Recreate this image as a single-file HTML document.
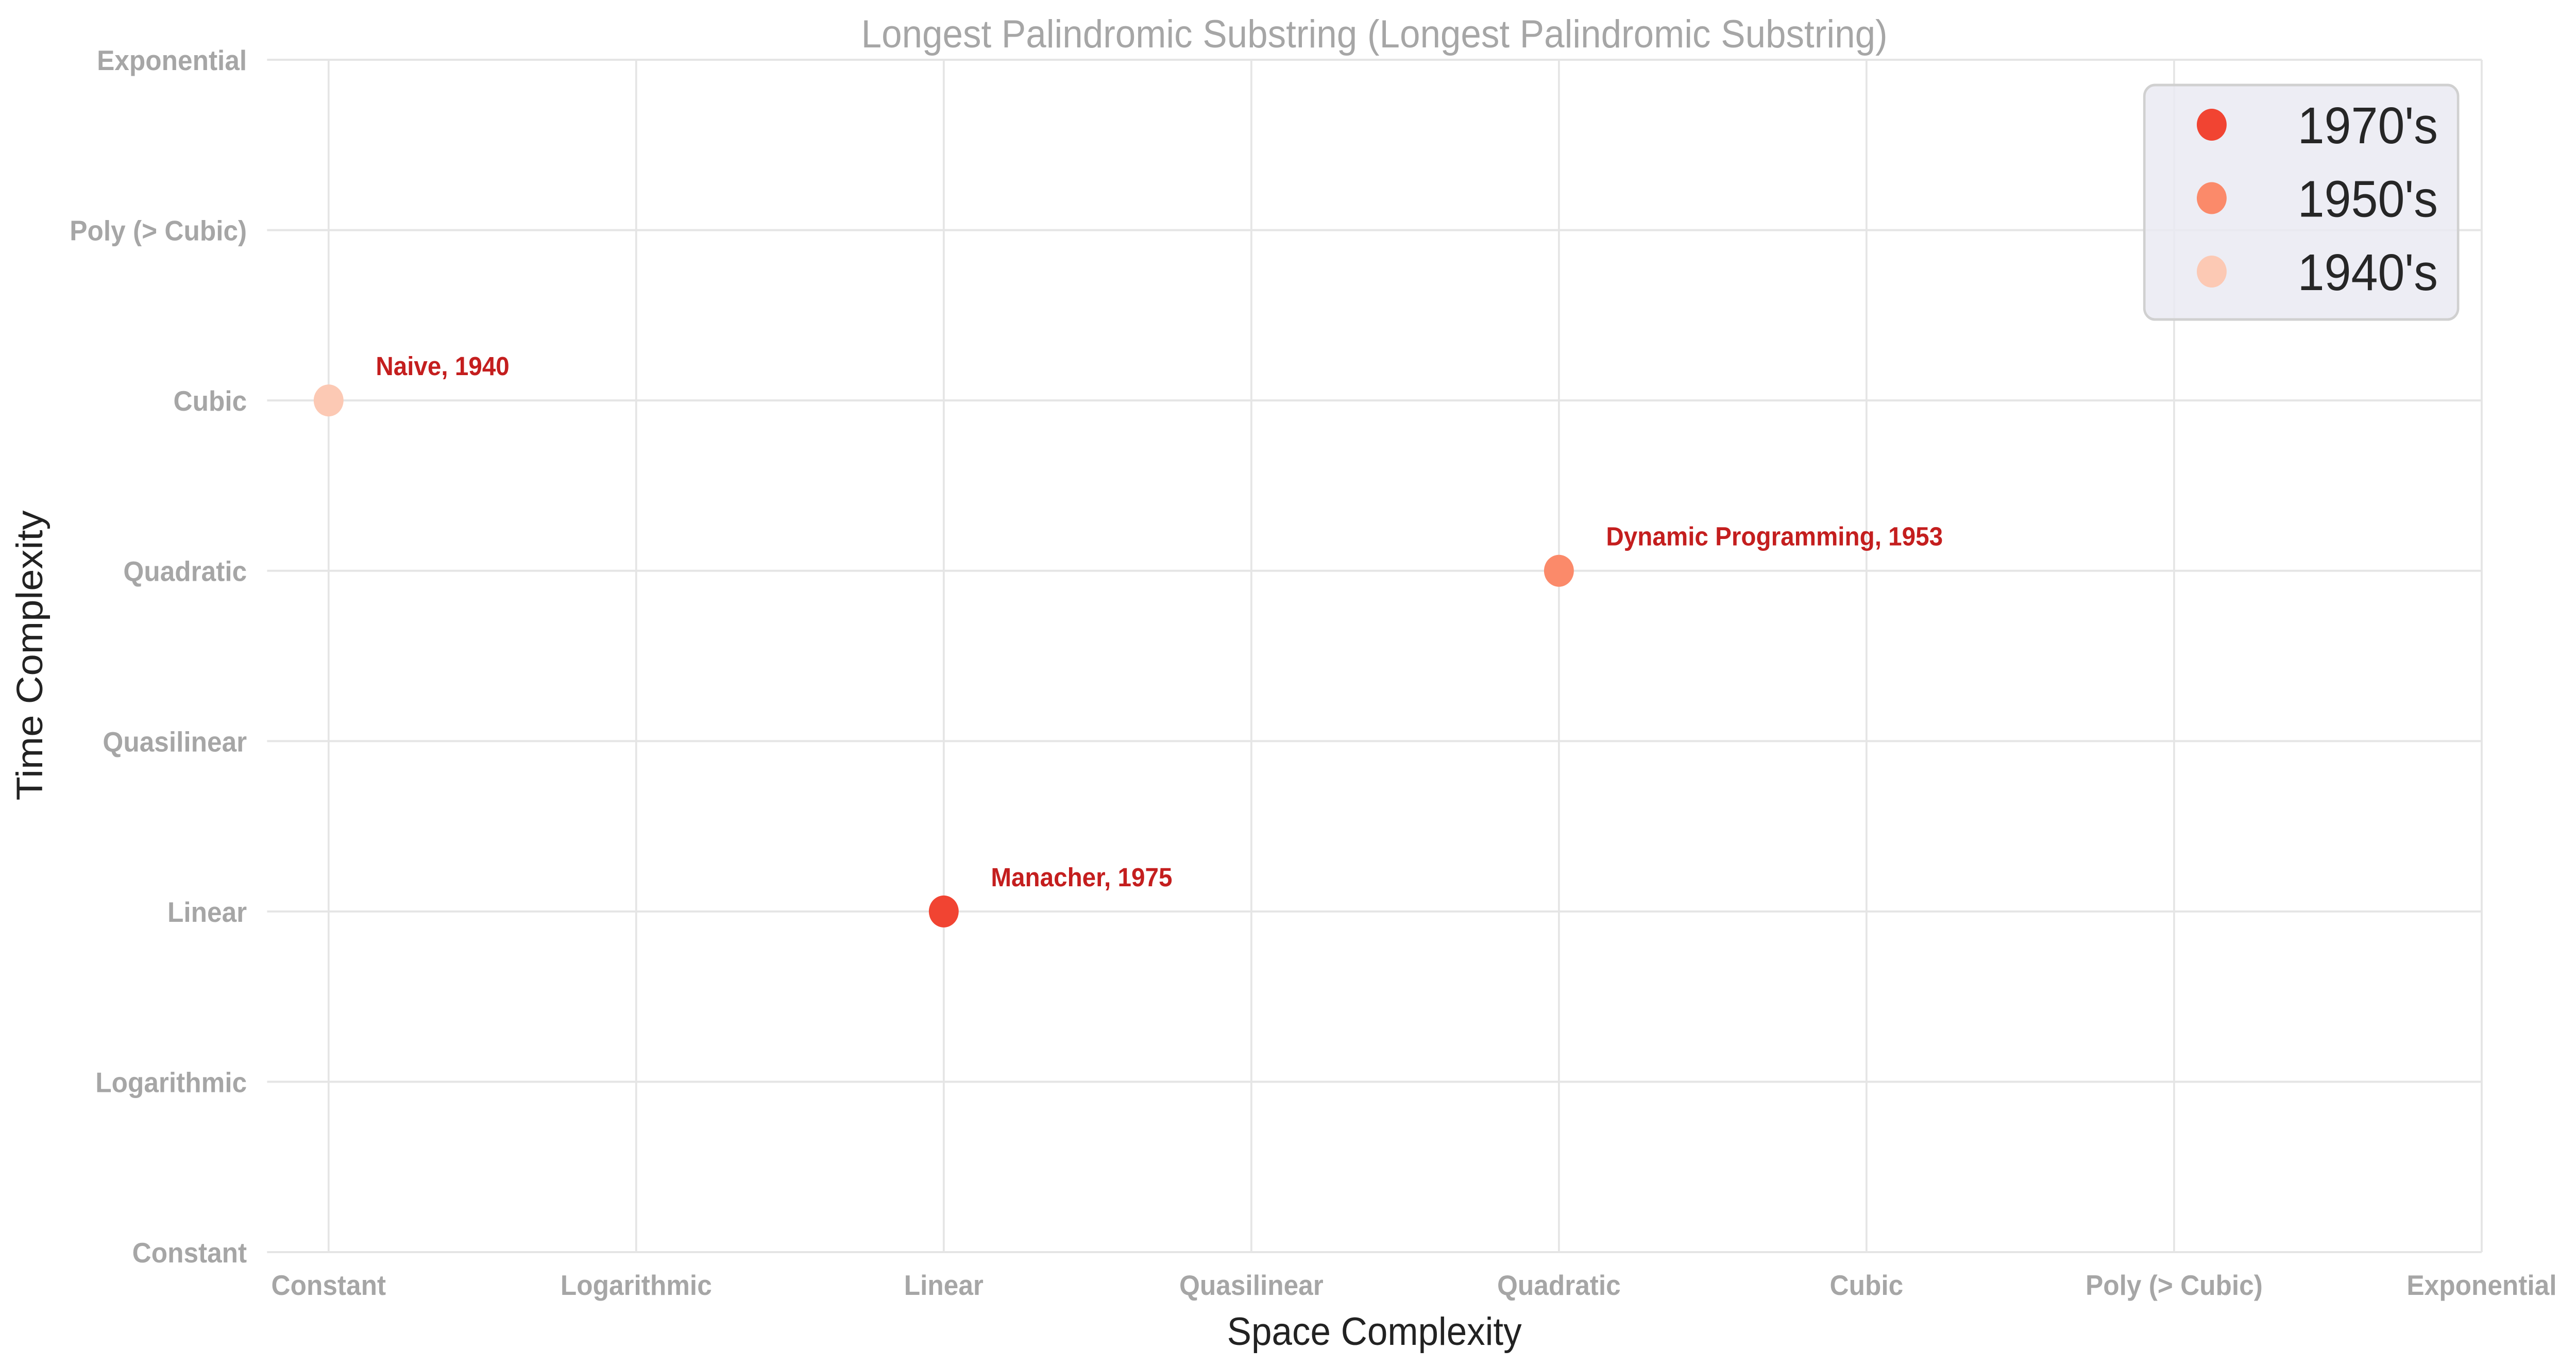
<!DOCTYPE html>
<html><head><meta charset="utf-8"><style>
html,body{margin:0;padding:0;background:#fff;width:100%;height:100%;overflow:hidden;}
svg{display:block;position:absolute;left:0;top:0;width:100vw;height:100vh;}
</style></head><body>
<svg id="chart" viewBox="0 0 5353 2651" preserveAspectRatio="none" xmlns="http://www.w3.org/2000/svg" font-family="Liberation Sans, Arial, sans-serif">
<rect width="5353" height="2651" fill="#fff"/>
<text x="2856" y="92" font-size="76" fill="#a6a6a6" text-anchor="middle">Longest Palindromic Substring (Longest Palindromic Substring)</text>
<g id="grid"></g>
<g id="xticks"></g>
<g id="yticks"></g>
<g id="points"></g>
<text x="2856" y="2610" font-size="76" fill="#222" text-anchor="middle">Space Complexity</text>
<text x="0" y="0" font-size="76" fill="#222" text-anchor="middle" transform="translate(88,1272) rotate(-90)">Time Complexity</text>
<g id="legend">
<rect x="4456" y="165" width="652" height="455" rx="22" fill="#eaeaf2" fill-opacity="0.85" stroke="#d0d0d0" stroke-width="5"/>
</g>
</svg>
<script>
const categories = ["Constant","Logarithmic","Linear","Quasilinear","Quadratic","Cubic","Poly (> Cubic)","Exponential"];
const pointNames = ["Naive, 1940","Dynamic Programming, 1953","Manacher, 1975"];
const spaceValues = [0, 4, 2];
const timeValues = [5, 4, 2];
const pointColors = ["#fcc9b4","#fb8a6a","#f14432"];
const legendLabels = ["1970's","1950's","1940's"];
const legendColors = ["#f14432","#fb8a6a","#fcc9b4"];

const NS="http://www.w3.org/2000/svg";
const L=555,R=5157,T=116,B=2430;
const xs=v=>L+(v+0.2)/7.2*(R-L);
const ys=v=>B-v/7*(B-T);
function mk(tag,attrs,parent,text){const e=document.createElementNS(NS,tag);for(const k in attrs)e.setAttribute(k,attrs[k]);if(text!==undefined)e.textContent=text;parent.appendChild(e);return e;}
const grid=document.getElementById('grid'),xt=document.getElementById('xticks'),yt=document.getElementById('yticks'),pts=document.getElementById('points'),lg=document.getElementById('legend');
categories.forEach((c,i)=>{
  let g=mk('line',{x1:xs(i),x2:xs(i),y1:T,y2:B,stroke:'#e5e5e5','stroke-width':4},grid);
  
  
  let h=mk('line',{x1:L,x2:R,y1:ys(i),y2:ys(i),stroke:'#e5e5e5','stroke-width':4},grid);
  
  
  let tx=mk('text',{x:xs(i),y:2513,'font-size':55,'font-weight':'bold',fill:'#a6a6a6','text-anchor':'middle'},xt,c);
  
  
  let ty=mk('text',{x:513,y:ys(i)+20,'font-size':55,'font-weight':'bold',fill:'#a6a6a6','text-anchor':'end'},yt,c);
  
  
});
mk('line',{x1:R,x2:R,y1:T,y2:B,stroke:'#e5e5e5','stroke-width':4},grid);
mk('line',{x1:L,x2:R,y1:T,y2:T,stroke:'#e5e5e5','stroke-width':4},grid);
mk('line',{x1:L,x2:R,y1:B,y2:B,stroke:'#e5e5e5','stroke-width':4},grid);
pointNames.forEach((n,i)=>{
  const cx=xs(spaceValues[i]),cy=ys(timeValues[i]);
  let c=mk('circle',{cx:cx,cy:cy,r:31,fill:pointColors[i]},pts);
  
  
  let t=mk('text',{x:cx+98,y:cy-49,'font-size':51,'font-weight':'bold',fill:'#c41e1e'},pts,n);
  
  
});
legendLabels.forEach((l,i)=>{
  const y=242+i*142.5;
  let c=mk('circle',{cx:4596,cy:y,r:31,fill:legendColors[i]},lg);
  
  
  let t=mk('text',{x:5066,y:y+36,'font-size':100,fill:'#262626','text-anchor':'end'},lg,l);
  
  
});
</script>
</body></html>
